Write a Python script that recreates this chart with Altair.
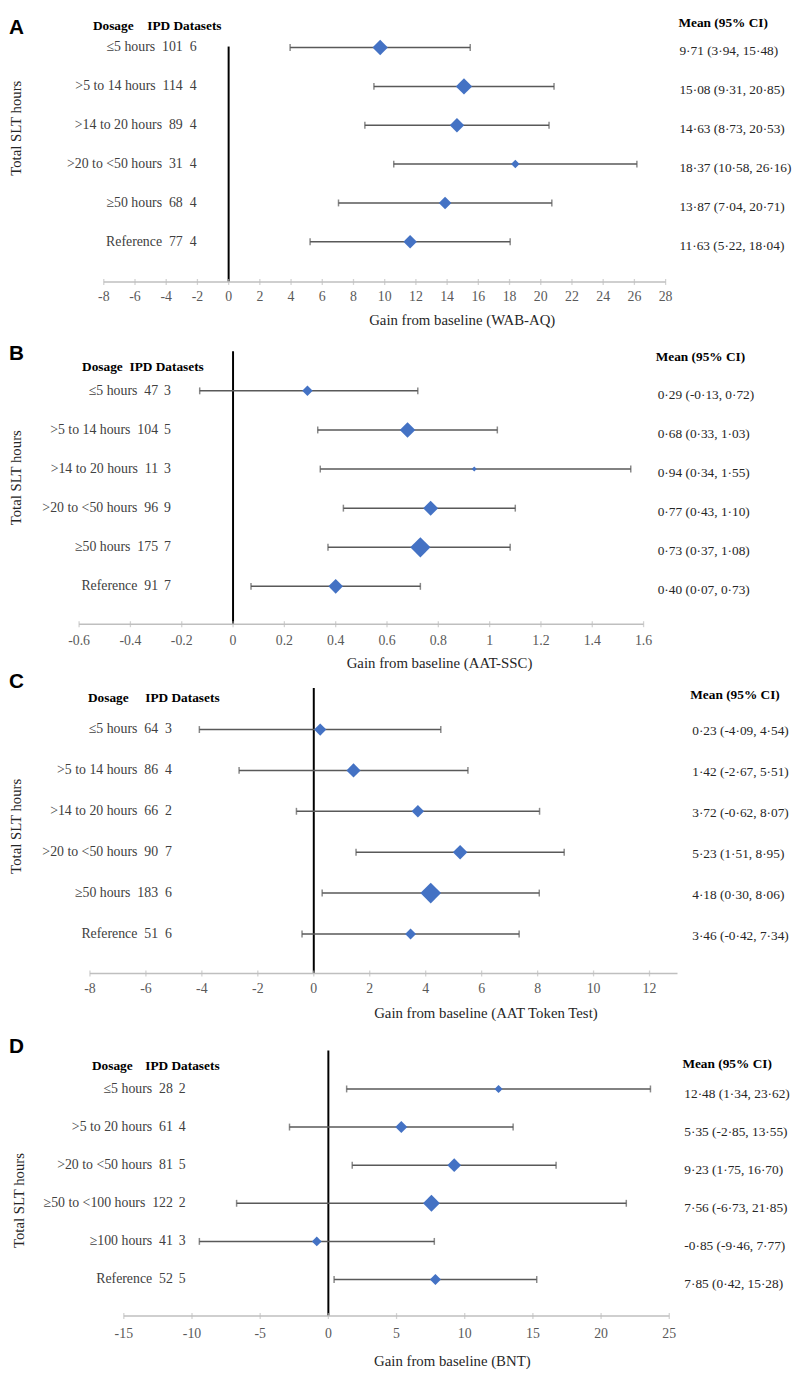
import altair as alt
import pandas as pd

# ---------------- data ----------------
A_labels = ["≤5 hours", ">5 to 14 hours", ">14 to 20 hours", ">20 to <50 hours", "≥50 hours", "Reference"]
A_n = [101, 114, 89, 31, 68, 77]
A_k = [6, 4, 4, 4, 4, 4]
A_mean = [9.71, 15.08, 14.63, 18.37, 13.87, 11.63]
A_lo = [3.94, 9.31, 8.73, 10.58, 7.04, 5.22]
A_hi = [15.48, 20.85, 20.53, 26.16, 20.71, 18.04]
A_ticks = [-8, -6, -4, -2, 0, 2, 4, 6, 8, 10, 12, 14, 16, 18, 20, 22, 24, 26, 28]
A_axis_end = 28
A_xtitle = "Gain from baseline (WAB-AQ)"

B_labels = ["≤5 hours", ">5 to 14 hours", ">14 to 20 hours", ">20 to <50 hours", "≥50 hours", "Reference"]
B_n = [47, 104, 11, 96, 175, 91]
B_k = [3, 5, 3, 9, 7, 7]
B_mean = [0.29, 0.68, 0.94, 0.77, 0.73, 0.40]
B_lo = [-0.13, 0.33, 0.34, 0.43, 0.37, 0.07]
B_hi = [0.72, 1.03, 1.55, 1.10, 1.08, 0.73]
B_ticks = [-0.6, -0.4, -0.2, 0, 0.2, 0.4, 0.6, 0.8, 1, 1.2, 1.4, 1.6]
B_axis_end = 1.6
B_xtitle = "Gain from baseline (AAT-SSC)"

C_labels = ["≤5 hours", ">5 to 14 hours", ">14 to 20 hours", ">20 to <50 hours", "≥50 hours", "Reference"]
C_n = [64, 86, 66, 90, 183, 51]
C_k = [3, 4, 2, 7, 6, 6]
C_mean = [0.23, 1.42, 3.72, 5.23, 4.18, 3.46]
C_lo = [-4.09, -2.67, -0.62, 1.51, 0.30, -0.42]
C_hi = [4.54, 5.51, 8.07, 8.95, 8.06, 7.34]
C_ticks = [-8, -6, -4, -2, 0, 2, 4, 6, 8, 10, 12]
C_axis_end = 13
C_xtitle = "Gain from baseline (AAT Token Test)"

D_labels = ["≤5 hours", ">5 to 20 hours", ">20 to <50 hours", "≥50 to <100 hours", "≥100 hours", "Reference"]
D_n = [28, 61, 81, 122, 41, 52]
D_k = [2, 4, 5, 2, 3, 5]
D_mean = [12.48, 5.35, 9.23, 7.56, -0.85, 7.85]
D_lo = [1.34, -2.85, 1.75, -6.73, -9.46, 0.42]
D_hi = [23.62, 13.55, 16.70, 21.85, 7.77, 15.28]
D_ticks = [-15, -10, -5, 0, 5, 10, 15, 20, 25]
D_axis_end = 25
D_xtitle = "Gain from baseline (BNT)"

ytitle = "Total SLT hours"
hdr_dose = "Dosage"
hdr_ipd = "IPD Datasets"
hdr_mean = "Mean (95% CI)"

# ---------------- layout / style ----------------
W = 784
SERIF = "Liberation Serif"
SANS = "Liberation Sans"
BLUE = "#4472C4"
GREY = "#595959"
AXIS = "#BFBFBF"
TICKLAB = "#595959"
LABEL = "#404040"
DARK = "#262626"

LAYOUT = {
    "A": dict(height=330, row0=31.3, step=39.35, header_y=10, mean_hdr_y=7, zero_top=30.3,
              axis_y=268.7, ticklab_y=284, atitle_y=307, ytitle_xy=(7, 113),
              tick_px=(96, 665), cols=(176, 190), hdr_x=(85, 140),
              mean_x=(678, 679), atitle_x=459, ci_dy=4),
    "B": dict(height=332, row0=49, step=39.6, header_y=25, mean_hdr_y=15, zero_top=9,
              axis_y=285.3, ticklab_y=302, atitle_y=325, ytitle_xy=(7, 137),
              tick_px=(71, 642.7), cols=(151, 164), hdr_x=(74, 122),
              mean_x=(655, 657), atitle_x=436, ci_dy=4),
    "C": dict(height=370, row0=60, step=41.4, header_y=28, mean_hdr_y=25, zero_top=18,
              axis_y=307, ticklab_y=323, atitle_y=347, ytitle_xy=(7, 158),
              tick_px=(82, 648.7), cols=(151, 165), hdr_x=(80, 138),
              mean_x=(690, 692), atitle_x=483, ci_dy=2),
    "D": dict(height=336, row0=54, step=38.6, header_y=31, mean_hdr_y=29, zero_top=15,
              axis_y=284, ticklab_y=302, atitle_y=330, ytitle_xy=(10, 167),
              tick_px=(116.3, 668.7), cols=(166, 179), hdr_x=(84, 138),
              mean_x=(682, 684), atitle_x=449, ci_dy=5),
}


def fmt(v):
    return f"{v:.2f}".replace(".", "·")


def txt(text, x, y, **kw):
    return alt.Chart(pd.DataFrame({"t": [text]})).mark_text(**kw).encode(
        text="t:N", x=alt.value(x), y=alt.value(y))


def panel(letter, labels, n, k, mean, lo, hi, ticks, axis_end, xtitle):
    L = LAYOUT[letter]
    H = L["height"]
    df = pd.DataFrame({"label": labels, "n": n, "k": k, "mean": mean, "lo": lo, "hi": hi})
    df["row"] = list(range(len(df)))
    df["lab_n"] = [f"{a}\u2002{b}" for a, b in zip(labels, n)]
    df["ci"] = [f"{fmt(m)} ({fmt(a)}, {fmt(b)})" for m, a, b in zip(mean, lo, hi)]

    t_lo, t_hi = ticks[0], ticks[-1]
    p_lo, p_hi = L["tick_px"]
    kpx = (p_hi - p_lo) / (t_hi - t_lo)
    xs = alt.Scale(domain=[t_lo - p_lo / kpx, t_lo + (W - p_lo) / kpx], nice=False, zero=False)
    y0 = -L["row0"] / L["step"]
    ys = alt.Scale(domain=[y0, y0 + H / L["step"]], nice=False, zero=False, reverse=True)

    def X(f):
        return alt.X(f, scale=xs, axis=None)

    def Y(f):
        return alt.Y(f, scale=ys, axis=None)

    base = alt.Chart(df)
    layers = []
    # zero reference line
    layers.append(alt.Chart(pd.DataFrame({"z": [0]})).mark_rule(color="black", strokeWidth=2).encode(
        x=X("z:Q"), y=alt.value(L["zero_top"]), y2=alt.value(L["axis_y"])))
    # axis line, ticks, tick labels
    layers.append(alt.Chart(pd.DataFrame({"a": [t_lo], "b": [axis_end]})).mark_rule(
        color=AXIS, strokeWidth=1.5).encode(x=X("a:Q"), x2="b:Q", y=alt.value(L["axis_y"])))
    tdf = pd.DataFrame({"v": ticks, "lab": [f"{t:g}" for t in ticks]})
    layers.append(alt.Chart(tdf).mark_tick(orient="vertical", size=6, thickness=1.3, color=AXIS).encode(
        x=X("v:Q"), y=alt.value(L["axis_y"])))
    layers.append(alt.Chart(tdf).mark_text(baseline="middle", font=SERIF, fontSize=14, color=TICKLAB).encode(
        x=X("v:Q"), y=alt.value(L["ticklab_y"]), text="lab:N"))
    # CI bars and caps
    layers.append(base.mark_rule(color=GREY, strokeWidth=1.5).encode(x=X("lo:Q"), x2="hi:Q", y=Y("row:Q")))
    layers.append(base.mark_tick(orient="vertical", size=7, thickness=1.5, color=GREY).encode(
        x=X("lo:Q"), y=Y("row:Q")))
    layers.append(base.mark_tick(orient="vertical", size=7, thickness=1.5, color=GREY).encode(
        x=X("hi:Q"), y=Y("row:Q")))
    # diamonds
    layers.append(base.mark_point(shape="diamond", filled=True, color=BLUE, opacity=1, strokeWidth=0).encode(
        x=X("mean:Q"), y=Y("row:Q"),
        size=alt.Size("n:Q", scale=alt.Scale(domain=[0, 200], range=[0, 480]), legend=None)))
    # left columns (dosage + participants, datasets)
    layers.append(base.mark_text(align="right", baseline="middle", font=SERIF, fontSize=14, color=LABEL).encode(
        x=alt.value(L["cols"][0]), y=Y("row:Q"), text="lab_n:N"))
    layers.append(base.mark_text(align="right", baseline="middle", font=SERIF, fontSize=14, color=LABEL).encode(
        x=alt.value(L["cols"][1]), y=Y("row:Q"), text="k:Q"))
    # right column
    layers.append(base.mark_text(align="left", baseline="middle", dy=L["ci_dy"], font=SERIF, fontSize=13.5,
                                 color=DARK).encode(x=alt.value(L["mean_x"][1]), y=Y("row:Q"), text="ci:N"))
    # headers and titles
    hb = dict(align="left", baseline="middle", font=SERIF, fontSize=13.5, fontWeight="bold", color="black")
    layers.append(txt(hdr_dose, L["hdr_x"][0], L["header_y"], **hb))
    layers.append(txt(hdr_ipd, L["hdr_x"][1], L["header_y"], **hb))
    layers.append(txt(hdr_mean, L["mean_x"][0], L["mean_hdr_y"], **hb))
    layers.append(txt(xtitle, L["atitle_x"], L["atitle_y"], align="center", baseline="middle",
                      font=SERIF, fontSize=15, color=DARK))
    layers.append(txt(ytitle, L["ytitle_xy"][0], L["ytitle_xy"][1], align="center", baseline="middle",
                      angle=270, font=SERIF, fontSize=15, color=DARK))
    layers.append(txt(letter, 0, 0.5, align="left", baseline="top", font=SANS, fontWeight="bold",
                      fontSize=21, color="black"))
    return alt.layer(*layers).properties(width=W, height=H)


pA = panel("A", A_labels, A_n, A_k, A_mean, A_lo, A_hi, A_ticks, A_axis_end, A_xtitle)
pB = panel("B", B_labels, B_n, B_k, B_mean, B_lo, B_hi, B_ticks, B_axis_end, B_xtitle)
pC = panel("C", C_labels, C_n, C_k, C_mean, C_lo, C_hi, C_ticks, C_axis_end, C_xtitle)
pD = panel("D", D_labels, D_n, D_k, D_mean, D_lo, D_hi, D_ticks, D_axis_end, D_xtitle)

chart = alt.vconcat(pA, pB, pC, pD, spacing=0, bounds="flush").properties(
    padding=0).configure_view(strokeWidth=0)

chart.save("out.html", embed_options={"renderer": "svg", "actions": False})
